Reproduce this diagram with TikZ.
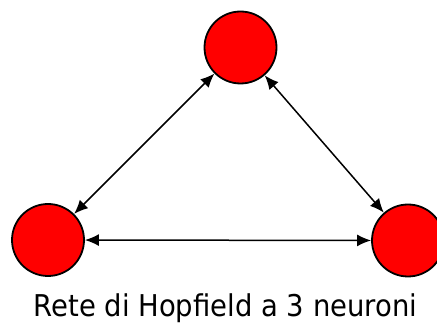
\documentclass[tikz,border=0pt]{standalone}
\usepackage{fontspec}
\setmainfont{DejaVu Sans}
\usetikzlibrary{arrows.meta}
\begin{document}
\begin{tikzpicture}[x=1pt,y=-1pt,
  neuron/.style={circle,draw=black,line width=1.8pt,fill=red,minimum size=72pt,inner sep=0pt},
  link/.style={line width=1.5pt,{Latex[length=14pt,width=12pt]}-{Latex[length=14pt,width=12pt]}},
  caption/.style={font=\fontsize{30}{30}\selectfont,inner sep=0pt,anchor=base,xscale=0.915}]
  \useasboundingbox (0,0) rectangle (437,323);
  \node[neuron] (top) at (240.5,47.5) {};
  \node[neuron] (left) at (48,240) {};
  \node[neuron] (right) at (408,240.5) {};
  \draw[link] (top) -- (left);
  \draw[link] (top) -- (right);
  \draw[link] (left) -- (right);
  \node[caption] (cap) at (225.5,317) {Rete di Hopfield a 3 neuroni};
\end{tikzpicture}
\end{document}
